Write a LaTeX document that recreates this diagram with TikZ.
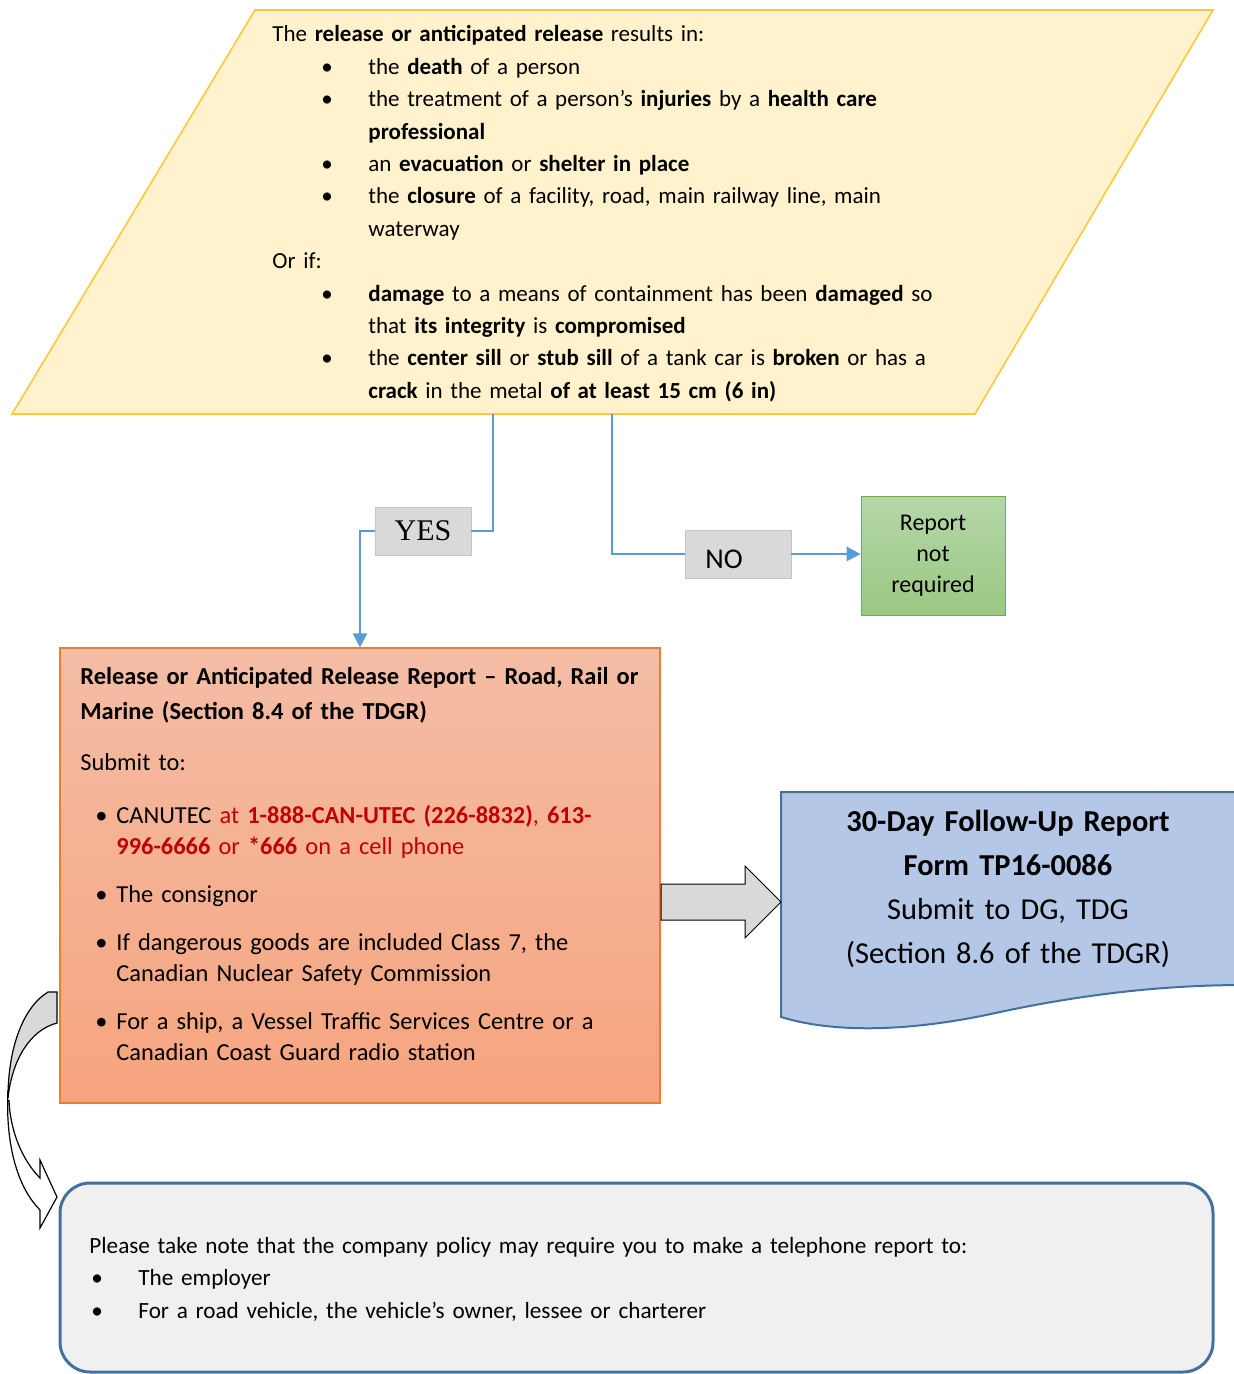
\documentclass[tikz,border=0pt]{standalone}
\usepackage{fontspec}
\setmainfont{Carlito}
\newfontfamily\yesfont{Liberation Serif}
\usetikzlibrary{arrows.meta}

\definecolor{condfill}{HTML}{FFF2CC}
\definecolor{conddraw}{HTML}{FFC83D}
\definecolor{flowblue}{HTML}{5B9BD5}
\definecolor{labelgray}{HTML}{D9D9D9}
\definecolor{labeldraw}{HTML}{C4C4C4}
\definecolor{greentop}{HTML}{B5D7A8}
\definecolor{greenbot}{HTML}{9BC783}
\definecolor{greendraw}{HTML}{70AD47}
\definecolor{orangetop}{HTML}{F4BDA6}
\definecolor{orangebot}{HTML}{F6A47E}
\definecolor{orangedraw}{HTML}{ED7D31}
\definecolor{docfill}{HTML}{B4C7E7}
\definecolor{docdraw}{HTML}{41719C}
\definecolor{notefill}{HTML}{F0F0F0}
\definecolor{phonered}{HTML}{C00000}

% bullets and hanging indents for the text blocks
\newcommand{\cbul}{\hspace*{24.5pt}\makebox[23.5pt][l]{\textbullet}}
\newcommand{\cind}{\hspace*{48pt}}
\newcommand{\rbul}{\hspace*{7.5pt}\makebox[10.5pt][l]{\textbullet}}
\newcommand{\rind}{\hspace*{18pt}}
\newcommand{\nbul}{\hspace*{1pt}\makebox[23.5pt][l]{\textbullet}}
\newcommand{\red}[1]{\textcolor{phonered}{#1}}

\begin{document}
\begin{tikzpicture}[x=0.5pt, y=-0.5pt,
    flow/.style={draw=flowblue, line width=1.3pt},
    answer/.style={draw=labeldraw, fill=labelgray, minimum height=24pt, inner sep=0pt},
    textblock/.style={anchor=base west, inner sep=0pt, align=left}]
    \useasboundingbox (0,0) rectangle (1233,1374);

    % Draw the condition (parallelogram)
    \draw[fill=condfill, draw=conddraw, line width=0.8pt]
        (255,10) -- (1213,10) -- (975,414) -- (12,414) -- cycle;
    \coordinate (condyes) at (493,414);
    \coordinate (condno) at (612,414);
    \node[textblock, text width=340pt, font=\fontsize{11.5}{16.2}\selectfont] (cond) at (272,42) {%
        The \textbf{release or anticipated release} results in:\\
        \cbul the \textbf{death} of a person\\
        \cbul the treatment of a person's \textbf{injuries} by a \textbf{health care}\\
        \cind\textbf{professional}\\
        \cbul an \textbf{evacuation} or \textbf{shelter in place}\\
        \cbul the \textbf{closure} of a facility, road, main railway line, main\\
        \cind waterway\\
        Or if:\\
        \cbul\textbf{damage} to a means of containment has been \textbf{damaged} so\\
        \cind that \textbf{its integrity} is \textbf{compromised}\\
        \cbul the \textbf{center sill} or \textbf{stub sill} of a tank car is \textbf{broken} or has a\\
        \cind\textbf{crack} in the metal \textbf{of at least 15 cm (6 in)}};

    % Draw the answers and the end box
    \node[answer, minimum width=48pt, font=\yesfont\fontsize{15}{15}\selectfont] (yes) at (423,531) {YES};
    \node[answer, minimum width=53pt] (no) at (738,554) {};
    \node[inner sep=0pt, font=\fontsize{14.3}{14}\selectfont] (notxt) at (724,559) {NO};
    \node[draw=greendraw, top color=greentop, bottom color=greenbot, minimum width=72pt,
        minimum height=59.5pt, align=center, font=\fontsize{12}{15.5}\selectfont] (notreq) at (933,555.5)
        {Report\\not\\required};

    % Draw the report box
    \node[draw=orangedraw, top color=orangetop, bottom color=orangebot, line width=0.6pt,
        minimum width=300pt, minimum height=227.5pt] (report) at (360,875.5) {};
    \node[textblock, text width=295pt, font=\fontsize{12.2}{15.5}\selectfont] (reporttxt) at (80,684) {%
        \textbf{Release or Anticipated Release Report \textendash{} Road, Rail or}\\[2pt]
        \textbf{Marine (Section 8.4 of the TDGR)}\\[10pt]
        Submit to:\\[11pt]
        \rbul CANUTEC \red{at \textbf{1-888-CAN-UTEC (226-8832)}, \textbf{613-}}\\
        \rind\red{\textbf{996-6666} or \textbf{*666} on a cell phone}\\[8.5pt]
        \rbul The consignor\\[8.5pt]
        \rbul If dangerous goods are included Class 7, the\\
        \rind Canadian Nuclear Safety Commission\\[8.5pt]
        \rbul For a ship, a Vessel Traffic Services Centre or a\\
        \rind Canadian Coast Guard radio station};

    % Draw the follow-up report (document shape)
    \draw[fill=docfill, draw=docdraw, line width=1pt]
        (781,792) -- (1245,792) -- (1245,985)
        .. controls (1160,985) and (1080,995) .. (1000,1012)
        .. controls (920,1030) and (840,1035) .. (781,1017) -- cycle;
    \node[anchor=base, inner sep=0pt, text width=300pt, align=center,
        font=\fontsize{15.2}{22}\selectfont] (follow) at (1008,831) {%
        \textbf{30-Day Follow-Up Report}\\
        \textbf{Form TP16-0086}\\
        Submit to DG, TDG\\
        (Section 8.6 of the TDGR)};

    % Draw the note box
    \node[draw=docdraw, fill=notefill, line width=1.5pt, rounded corners=15pt,
        minimum width=576.5pt, minimum height=94.5pt] (note) at (636.5,1277.5) {};
    \node[textblock, text width=560pt, font=\fontsize{11.6}{16.3}\selectfont] (notetxt) at (89,1253) {%
        Please take note that the company policy may require you to make a telephone report to:\\
        \nbul The employer\\
        \nbul For a road vehicle, the vehicle's owner, lessee or charterer};

    % Draw the YES and NO connectors
    \draw[flow] (condyes) |- (yes);
    \draw[flow, -{Triangle[length=7pt, width=7pt]}] (yes) -| (report);
    \draw[flow] (condno) |- (no);
    \draw[flow, -{Triangle[length=7pt, width=7pt]}] (no.east) -- (no.east -| notreq.west);

    % Block arrow from the report to the follow-up report
    \coordinate (arrtail) at (661,902);
    \draw[fill=labelgray, line width=0.5pt] (arrtail) ++(0,-18) -- ++(84,0) -- ++(0,-18)
        -- ++(36,36) -- ++(-36,36) -- ++(0,-18) -- ++(-84,0) -- cycle;

    % Curved arrow from the report down to the note
    \draw[fill=white, line width=0.6pt] (8,1090) .. controls (5,1150) and (20,1190) .. (40,1210)
        -- (40,1228) -- (57,1197) -- (40,1160) -- (40,1178)
        .. controls (22,1160) and (10,1130) .. (9,1100);
    \draw[fill=labelgray, line width=0.6pt] (57,992) -- (48,992)
        .. controls (22,1008) and (8,1050) .. (8,1098)
        .. controls (12,1060) and (30,1030) .. (57,1023) -- cycle;
\end{tikzpicture}
\end{document}
